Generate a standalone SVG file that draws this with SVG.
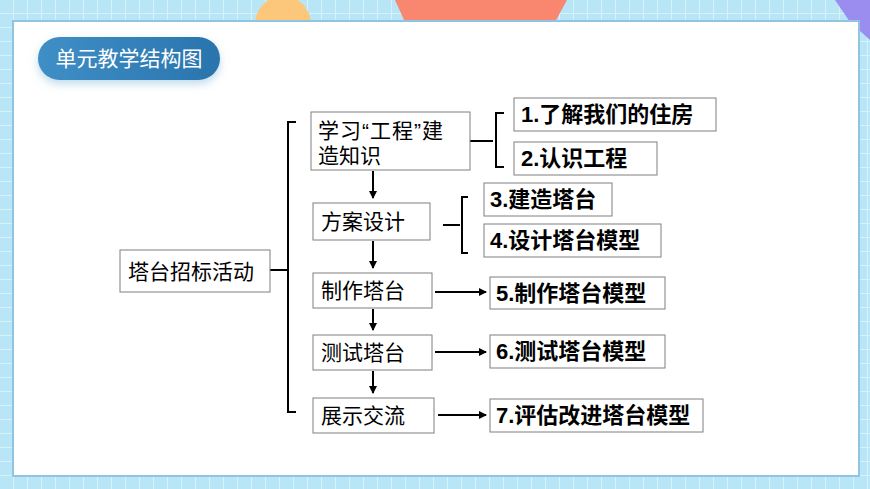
<svg xmlns="http://www.w3.org/2000/svg" width="870" height="489" viewBox="0 0 870 489">
<defs>
<linearGradient id="pill" x1="0" y1="0" x2="1" y2="0"><stop offset="0" stop-color="#3f8fc6"/><stop offset="1" stop-color="#2a74ad"/></linearGradient>
<pattern id="grid" width="14" height="14" patternUnits="userSpaceOnUse"><rect width="14" height="14" fill="#b8e6f7"/><path d="M14 0V14H0" fill="none" stroke="#d6f2fb" stroke-width="2"/></pattern>
<marker id="ah" markerWidth="8" markerHeight="8" refX="7" refY="4" orient="auto" markerUnits="userSpaceOnUse"><path d="M0,0 L8,4 L0,8 z" fill="#000"/></marker>
<filter id="sh" x="-20%" y="-30%" width="140%" height="170%"><feDropShadow dx="0" dy="4" stdDeviation="4" flood-color="#7fb6d8" flood-opacity="0.5"/></filter>
</defs>
<style>
.b{fill:#fff;stroke:#7f7f7f;stroke-width:1}
.t{font-family:"Liberation Sans","Noto Sans CJK SC",sans-serif;font-size:21px;fill:#000}
.tb{font-family:"Liberation Sans","Noto Sans CJK SC",sans-serif;font-size:22px;font-weight:bold;fill:#000}
.l{fill:none;stroke:#000;stroke-width:2}
</style>
<rect width="870" height="489" fill="url(#grid)"/>
<circle cx="283" cy="24" r="28" fill="#fcc77b"/>
<path d="M395 0H567L555 22H405Z" fill="#f9866f"/>
<path d="M835 0H870V40L850 22Z" fill="#9b8cf0"/>
<rect x="13" y="21" width="846" height="455" fill="#fff" stroke="#8fc5e0" stroke-width="2"/>
<g id="title"><rect x="38" y="37" width="182" height="43" rx="21.5" fill="url(#pill)" filter="url(#sh)"/><text x="129" y="66" text-anchor="middle" font-family="'Noto Sans CJK SC',sans-serif" font-size="21" fill="#fff">单元教学结构图</text></g>
<g id="connectors">
<path class="l" d="M270 270H288M296 122H288V412H296"/>
<path class="l" d="M470 141H493M504 113H496V167H504"/>
<path class="l" d="M443 225H460M468 197H462V253H468"/>
<path class="l" d="M373 171V198" marker-end="url(#ah)"/>
<path class="l" d="M373 241V268" marker-end="url(#ah)"/>
<path class="l" d="M373 309V330" marker-end="url(#ah)"/>
<path class="l" d="M373 371V393" marker-end="url(#ah)"/>
<path class="l" d="M435 292H486" marker-end="url(#ah)"/>
<path class="l" d="M435 352H486" marker-end="url(#ah)"/>
<path class="l" d="M438 415H486" marker-end="url(#ah)"/>
</g>
<g id="root"><rect class="b" x="120" y="250" width="150" height="42"/><text class="t" x="128" y="279">塔台招标活动</text></g>
<g id="s1"><rect class="b" x="311" y="112" width="159" height="58"/><text class="t" x="318" y="138" letter-spacing="1">学习“工程”建</text><text class="t" x="318" y="163">造知识</text></g>
<g id="s2"><rect class="b" x="313" y="203" width="117" height="37"/><text class="t" x="321" y="229">方案设计</text></g>
<g id="s3"><rect class="b" x="313" y="273" width="119" height="35"/><text class="t" x="321" y="298">制作塔台</text></g>
<g id="s4"><rect class="b" x="313" y="335" width="119" height="35"/><text class="t" x="321" y="360">测试塔台</text></g>
<g id="s5"><rect class="b" x="313" y="398" width="121" height="35"/><text class="t" x="321" y="423">展示交流</text></g>
<g id="r1"><rect class="b" x="514" y="98" width="202" height="33"/><text class="tb" x="521" y="122">1.了解我们的住房</text></g>
<g id="r2"><rect class="b" x="514" y="142" width="143" height="33"/><text class="tb" x="521" y="166">2.认识工程</text></g>
<g id="r3"><rect class="b" x="484" y="183" width="128" height="33"/><text class="tb" x="490" y="207">3.建造塔台</text></g>
<g id="r4"><rect class="b" x="484" y="224" width="177" height="33"/><text class="tb" x="490" y="248">4.设计塔台模型</text></g>
<g id="r5"><rect class="b" x="490" y="277" width="175" height="32"/><text class="tb" x="496" y="301">5.制作塔台模型</text></g>
<g id="r6"><rect class="b" x="490" y="335" width="175" height="33"/><text class="tb" x="496" y="359">6.测试塔台模型</text></g>
<g id="r7"><rect class="b" x="490" y="399" width="213" height="33"/><text class="tb" x="496" y="423">7.评估改进塔台模型</text></g>
</svg>
